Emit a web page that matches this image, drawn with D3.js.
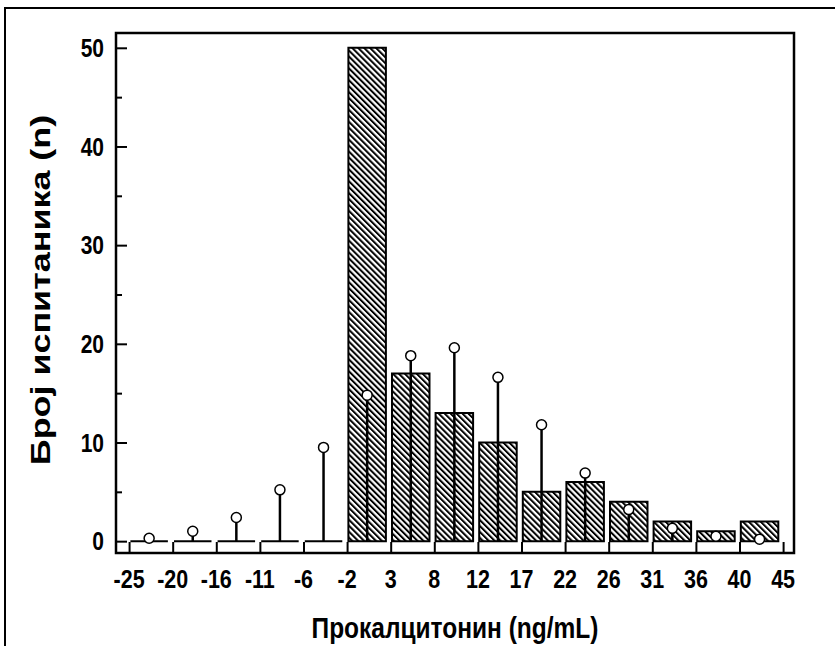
<!DOCTYPE html>
<html>
<head>
<meta charset="utf-8">
<script src="https://cdn.jsdelivr.net/npm/d3@7/dist/d3.min.js"></script>
<style>
  html, body { margin: 0; padding: 0; background: #fff; }
  svg { display: block; }
  text { font-family: "Liberation Sans", Arial, sans-serif; font-weight: bold; fill: #000; }
</style>
</head>
<body>
<svg id="chart" width="835" height="646"></svg>
<script>
// Bin edge labels (ng/mL) along the x axis
const edgeLabels = ["-25", "-20", "-16", "-11", "-6", "-2", "3", "8", "12", "17", "22", "26", "31", "36", "40", "45"];
// Observed number of subjects per bin
const observedCounts = [0, 0, 0, 0, 0, 50, 17, 13, 10, 5, 6, 4, 2, 1, 2];
// Expected counts from the fitted distribution (drop-line markers)
const expectedCounts = [0.3, 1.0, 2.4, 5.2, 9.5, 14.8, 18.8, 19.6, 16.6, 11.8, 6.9, 3.2, 1.3, 0.5, 0.2];
// Y axis ticks
const yMajorTicks = [0, 10, 20, 30, 40, 50];
const yMinorTicks = [5, 15, 25, 35, 45];

const svg = d3.select("#chart");
const W = 835, H = 646;
const plot = { left: 116, right: 794, top: 33, bottom: 553 };
const stretch = 1.2; // vertical stretch of the lettering

// x scale works in bin-index units: edge k sits at k
const x = d3.scaleLinear().domain([-0.3, 15.25]).range([plot.left, plot.right]);
const y = d3.scaleLinear().domain([-1.2, 51.5]).range([plot.bottom, plot.top]);

const barOffset = 0.46, barWidth = 0.86;

// Hatch pattern for the bars
const defs = svg.append("defs");
const pat = defs.append("pattern")
  .attr("id", "hatch")
  .attr("patternUnits", "userSpaceOnUse")
  .attr("width", 4.2).attr("height", 4.2)
  .attr("patternTransform", "rotate(-45)");
pat.append("rect").attr("width", 4.2).attr("height", 4.2).attr("fill", "#fff");
pat.append("rect").attr("width", 2).attr("height", 4.2).attr("fill", "#000");

// Page frame
svg.append("path")
  .attr("d", `M5,${H + 2} L5,8 L${W + 2},8`)
  .attr("fill", "none").attr("stroke", "#000").attr("stroke-width", 2);

// Bars (paths, so empty bins still show their base line)
const bins = observedCounts.map((v, i) => ({ i, v }));
svg.append("g").selectAll("path")
  .data(bins)
  .join("path")
  .attr("d", d => {
    const x0 = x(d.i + barOffset - barWidth / 2), x1 = x(d.i + barOffset + barWidth / 2);
    const y0 = y(0), y1 = y(d.v);
    return d.v > 0 ? `M${x0},${y0}V${y1}H${x1}V${y0}Z` : `M${x0},${y0}H${x1}`;
  })
  .attr("fill", "url(#hatch)")
  .attr("stroke", "#000")
  .attr("stroke-width", 2);

// Drop lines and markers for expected counts
const exp = expectedCounts.map((v, i) => ({ i, v }));
svg.append("g").selectAll("line")
  .data(exp)
  .join("line")
  .attr("x1", d => x(d.i + barOffset)).attr("x2", d => x(d.i + barOffset))
  .attr("y1", y(0)).attr("y2", d => y(d.v))
  .attr("stroke", "#000").attr("stroke-width", 2.5);
svg.append("g").selectAll("circle")
  .data(exp)
  .join("circle")
  .attr("cx", d => x(d.i + barOffset))
  .attr("cy", d => y(d.v))
  .attr("r", 5)
  .attr("fill", "#fff").attr("stroke", "#000").attr("stroke-width", 1.5);

// Axes frame
svg.append("rect")
  .attr("x", plot.left).attr("y", plot.top)
  .attr("width", plot.right - plot.left).attr("height", plot.bottom - plot.top)
  .attr("fill", "none").attr("stroke", "#000").attr("stroke-width", 2.5);

// Left axis: inward ticks
const yAxis = d3.axisRight(y).tickValues(yMajorTicks).tickSize(11).tickFormat("");
svg.append("g").attr("transform", `translate(${plot.left},0)`).call(yAxis)
  .call(g => g.select(".domain").remove())
  .call(g => g.selectAll("line").attr("stroke-width", 2));
const yMinor = d3.axisRight(y).tickValues(yMinorTicks).tickSize(6).tickFormat("");
svg.append("g").attr("transform", `translate(${plot.left},0)`).call(yMinor)
  .call(g => g.select(".domain").remove())
  .call(g => g.selectAll("line").attr("stroke-width", 2));
svg.append("g").selectAll("text")
  .data(yMajorTicks)
  .join("text")
  .attr("transform", d => `translate(${plot.left - 12},${y(d)}) scale(1,${stretch})`)
  .attr("dy", "0.36em")
  .attr("text-anchor", "end")
  .attr("font-size", 21)
  .text(d => d);

// Bottom axis: inward ticks at bin edges
const edgeIdx = edgeLabels.map((_, k) => k);
const xAxis = d3.axisTop(x).tickValues(edgeIdx).tickSize(11).tickFormat("");
svg.append("g").attr("transform", `translate(0,${plot.bottom})`).call(xAxis)
  .call(g => g.select(".domain").remove())
  .call(g => g.selectAll("line").attr("stroke-width", 2));
svg.append("g").selectAll("text")
  .data(edgeLabels)
  .join("text")
  .attr("transform", (d, k) => `translate(${x(k)},579) scale(1,${stretch})`)
  .attr("dy", "0.36em")
  .attr("text-anchor", "middle")
  .attr("font-size", 21.5)
  .text(d => d);

// Axis titles
svg.append("text")
  .attr("transform", `translate(455,627) scale(1,${stretch})`)
  .attr("dy", "0.36em")
  .attr("text-anchor", "middle")
  .attr("font-size", 24.5)
  .text("Прокалцитонин (ng/mL)");
svg.append("text")
  .attr("transform", `translate(40,290) rotate(-90) scale(1.33,1)`)
  .attr("dy", "0.36em")
  .attr("text-anchor", "middle")
  .attr("font-size", 27)
  .text("Број испитаника (n)");
</script>
</body>
</html>
